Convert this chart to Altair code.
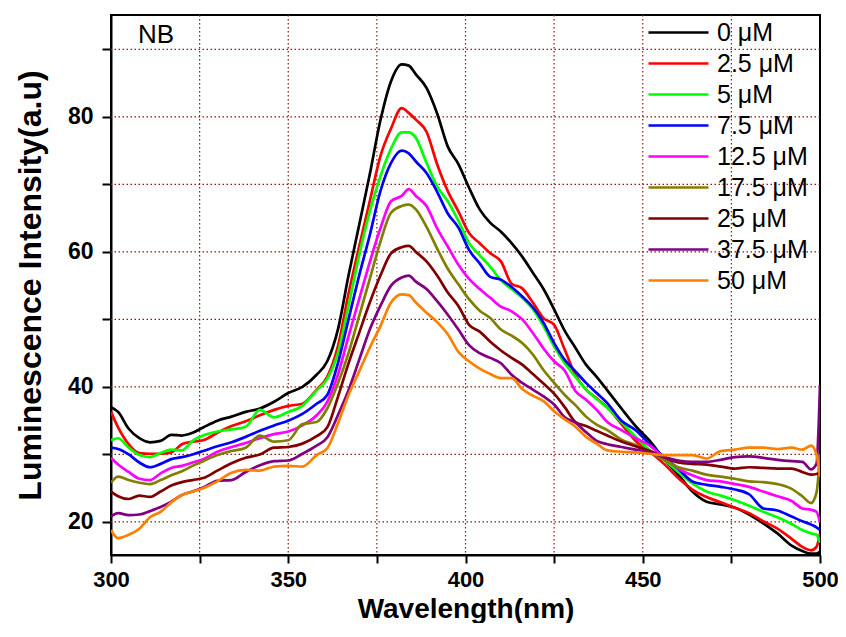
import altair as alt
import pandas as pd

wavelength = [300, 302, 305, 308, 311, 314, 317, 320, 323, 326, 330, 334, 338, 342, 346, 350,
              354, 358, 361, 364, 367, 370, 373, 376, 379, 382, 384, 386, 389, 392, 395, 398,
              401, 404, 407, 410, 413, 416, 419, 422, 425, 428, 431, 434, 437, 440, 444, 448,
              452, 456, 460, 464, 468, 472, 476, 480, 484, 488, 492, 495, 497.5, 499, 500]

c_0 = [37.0, 36.3, 33.8, 32.4, 31.8, 32.0, 32.9, 32.8, 33.2, 34.0, 35.0, 35.6, 36.3, 36.8, 37.8, 39.1,
       40.0, 41.8, 43.8, 48.5, 56.5, 64.0, 71.5, 79.5, 85.3, 87.8, 87.6, 86.3, 84.3, 80.5, 75.6, 73.0,
       69.5, 66.3, 64.3, 63.0, 61.3, 59.3, 56.9, 54.5, 51.5, 48.3, 45.8, 43.3, 41.5, 39.5, 36.8, 34.2,
       32.0, 29.3, 27.0, 24.5, 23.0, 22.6, 22.1, 21.1, 19.8, 18.3, 16.5, 15.7, 15.3, 15.3, 15.6]
c_2_5 = [36.3, 34.0, 31.5, 30.2, 30.1, 30.1, 30.3, 31.5, 31.9, 32.1, 33.2, 34.2, 34.9, 35.8, 36.6, 37.2,
         37.5, 39.6, 41.5, 46.0, 53.8, 60.8, 67.5, 74.2, 78.3, 81.3, 80.6, 79.6, 77.8, 73.0, 69.0, 66.0,
         62.8, 61.3, 59.8, 58.6, 55.3, 54.6, 52.5, 50.2, 49.2, 45.5, 41.8, 39.6, 38.3, 37.0, 34.5, 32.0,
         30.4, 28.6, 26.5, 24.8, 23.7, 22.9, 22.1, 21.3, 20.1, 19.0, 17.5, 16.3, 15.8, 16.3, 18.3]
c_5 = [32.1, 32.4, 31.0, 29.9, 29.6, 30.2, 30.7, 30.6, 32.0, 32.8, 33.4, 33.7, 34.1, 36.6, 35.5, 36.3,
       37.2, 39.5, 41.2, 45.0, 52.0, 59.5, 66.0, 71.2, 75.3, 77.7, 77.7, 76.9, 73.2, 69.7, 67.5, 64.6,
       61.3, 59.5, 57.8, 55.8, 54.5, 53.2, 51.5, 49.0, 46.0, 43.5, 41.5, 39.6, 38.2, 36.9, 34.8, 32.6,
       30.6, 29.2, 27.4, 25.7, 24.5, 23.9, 23.2, 22.4, 21.5, 20.7, 19.7, 18.8, 18.3, 18.1, 16.9]
c_7_5 = [31.0, 30.8, 30.0, 28.8, 28.1, 28.6, 29.3, 29.6, 30.0, 30.5, 31.2, 31.8, 32.6, 33.5, 34.3, 35.0,
         36.0, 37.5, 38.8, 43.5, 50.0, 56.5, 62.5, 69.0, 73.2, 75.0, 74.6, 73.4, 71.7, 68.9, 65.7, 63.6,
         60.3, 58.3, 56.3, 55.9, 54.8, 53.4, 51.8, 49.5, 46.5, 44.0, 42.3, 40.6, 39.1, 37.6, 35.0, 33.6,
         31.5, 29.6, 27.9, 26.0, 25.5, 25.2, 24.8, 24.1, 22.0, 21.7, 20.8, 20.1, 19.6, 19.2, 18.8]
c_12_5 = [29.5, 28.5, 27.4, 26.4, 26.2, 27.2, 28.0, 28.3, 28.8, 29.3, 30.4, 31.1, 31.7, 32.4, 33.0, 33.4,
          34.3, 35.8, 37.8, 41.8, 47.5, 53.0, 58.5, 63.5, 67.5, 68.3, 69.3, 68.3, 66.8, 63.5, 60.8, 58.1,
          56.0, 54.5, 53.2, 51.9, 51.2, 50.0, 48.0, 45.7, 43.8, 42.4, 39.4, 38.1, 36.6, 34.8, 33.6, 32.4,
          31.3, 29.5, 27.9, 26.9, 26.2, 26.0, 25.6, 25.2, 24.5, 23.8, 23.1, 22.0, 21.8, 21.5, 19.9]
c_17_5 = [25.8, 26.7, 26.2, 25.8, 25.6, 26.2, 26.9, 27.5, 28.3, 29.0, 29.9, 30.5, 31.0, 32.8, 31.9, 32.1,
          34.5, 34.8, 36.8, 40.5, 45.0, 50.5, 56.0, 61.5, 65.8, 66.8, 67.0, 66.3, 63.7, 60.5, 57.5, 55.2,
          53.0, 51.3, 50.2, 48.5, 47.6, 46.5, 44.8, 42.5, 40.6, 38.8, 37.3, 35.6, 34.4, 33.6, 32.2, 31.4,
          30.3, 29.2, 28.1, 27.6, 27.0, 26.7, 26.4, 26.0, 25.9, 25.6, 24.9, 23.8, 22.8, 24.3, 30.0]
c_25 = [24.5, 23.8, 23.4, 23.9, 23.7, 24.5, 25.4, 25.9, 26.2, 26.5, 27.6, 28.7, 29.5, 30.0, 31.0, 31.1,
        31.6, 32.7, 34.0, 38.5, 43.5, 48.0, 52.5, 56.5, 59.8, 60.7, 60.9, 60.0, 58.6, 56.5, 54.0, 52.0,
        49.2, 48.2, 46.7, 45.4, 44.3, 43.3, 41.9, 40.5, 39.0, 37.0, 34.8, 34.2, 33.5, 32.8, 31.9, 31.2,
        30.5, 29.6, 28.8, 28.6, 28.5, 28.2, 27.9, 28.1, 28.0, 27.9, 27.9, 27.4, 27.0, 27.1, 27.3]
c_37_5 = [20.8, 21.3, 21.0, 21.1, 21.6, 22.2, 23.0, 24.0, 24.5, 25.1, 26.1, 26.2, 27.4, 28.4, 29.0, 29.1,
          30.1, 31.3, 32.5, 35.8, 39.5, 44.0, 48.5, 52.0, 55.0, 56.2, 56.5, 55.6, 54.5, 52.7, 50.7, 48.5,
          46.2, 45.0, 44.3, 43.5, 41.8, 40.6, 39.6, 38.6, 37.4, 35.5, 34.7, 33.3, 32.0, 31.5, 31.1, 30.7,
          30.3, 29.6, 29.1, 28.9, 28.9, 29.2, 29.6, 29.7, 29.5, 29.2, 29.0, 28.9, 27.8, 28.6, 40.3]
c_50 = [18.8, 17.6, 18.1, 19.0, 20.7, 21.5, 22.9, 24.0, 24.5, 25.0, 26.0, 27.3, 27.7, 27.6, 28.2, 28.3,
        28.2, 29.9, 30.9, 34.6, 38.8, 42.3, 45.8, 49.0, 52.5, 53.7, 53.6, 52.5, 51.0, 49.6, 47.8, 45.2,
        43.8, 42.7, 41.9, 41.3, 41.3, 39.7, 38.7, 37.9, 36.4, 35.2, 34.1, 32.6, 31.6, 30.6, 30.4, 30.3,
        30.1, 29.9, 29.9, 29.9, 29.4, 30.5, 30.7, 31.0, 31.0, 30.8, 31.0, 30.7, 31.3, 30.0, 26.7]

labels = ["0 μM", "2.5 μM", "5 μM", "7.5 μM", "12.5 μM", "17.5 μM", "25 μM", "37.5 μM", "50 μM"]
series = [c_0, c_2_5, c_5, c_7_5, c_12_5, c_17_5, c_25, c_37_5, c_50]
colors = ["#000000", "#ff0000", "#00ff00", "#0000ff", "#ff00ff", "#808000", "#800000", "#800080", "#ff8000"]

x_ticks = [300, 325, 350, 375, 400, 425, 450, 475, 500]
y_ticks = [20, 30, 40, 50, 60, 70, 80, 90]
x_grid = [325, 350, 375, 400, 425, 450, 475]
y_grid = [20, 30, 40, 50, 60, 70, 80, 90]

rows = []
for lab, vals in zip(labels, series):
    for w, v in zip(wavelength, vals):
        rows.append({"wl": w, "val": v, "conc": lab})
df = pd.DataFrame(rows)

FONT = "Liberation Sans"
x_scale = alt.Scale(domain=[300, 500], nice=False, zero=False)
y_scale = alt.Scale(domain=[15.1, 95.1], nice=False, zero=False)
grid_color = "#a01010"

x_axis = alt.Axis(
    values=x_ticks, labelExpr="datum.value % 50 === 0 ? datum.label : ''",
    grid=False, tickSize=8, tickWidth=2, tickColor="black",
    domainColor="black", domainWidth=2, labelFlush=False, labelOverlap=False,
    labelFont=FONT, labelFontSize=22, labelFontWeight="bold", labelColor="black", labelPadding=6,
    title="Wavelength(nm)", titleFont=FONT, titleFontSize=28, titleFontWeight="bold",
    titleColor="black", titleX=354.5, titleY=62, titleAlign="center", titleBaseline="alphabetic")
y_axis = alt.Axis(
    values=y_ticks, labelExpr="datum.value % 20 === 0 ? datum.label : ''",
    grid=False, tickSize=9, tickWidth=2, tickColor="black",
    domainColor="black", domainWidth=2, labelFlush=False, labelOverlap=False,
    labelFont=FONT, labelFontSize=23, labelFontWeight="bold", labelColor="black", labelPadding=9,
    title="Luminescence Intensity(a.u)", titleFont=FONT, titleFontSize=32, titleFontWeight="bold",
    titleColor="black", titleX=-71, titleY=270, titleAngle=-90, titleAlign="center",
    titleBaseline="alphabetic")

vgrid = alt.Chart(pd.DataFrame({"wl": x_grid})).mark_rule(
    color=grid_color, strokeDash=[1.5, 2.5], strokeWidth=1.2
).encode(x=alt.X("wl:Q", scale=x_scale, axis=x_axis))

hgrid = alt.Chart(pd.DataFrame({"val": y_grid})).mark_rule(
    color=grid_color, strokeDash=[1.5, 2.5], strokeWidth=1.2
).encode(y=alt.Y("val:Q", scale=y_scale, axis=y_axis))

lines = alt.Chart(df).mark_line(strokeWidth=2.7, interpolate="monotone", clip=True).encode(
    x=alt.X("wl:Q", scale=x_scale, axis=x_axis),
    y=alt.Y("val:Q", scale=y_scale, axis=y_axis),
    color=alt.Color("conc:N", scale=alt.Scale(domain=labels, range=colors), legend=alt.Legend(
        title=None, orient="none", legendX=555, legendY=5, symbolType="M-3,0L3,0", symbolSize=400,
        symbolStrokeWidth=2.4, labelFont=FONT, labelFontSize=25, labelColor="black", labelOffset=26,
        rowPadding=5, padding=0)),
)

nb = alt.Chart(pd.DataFrame({"t": ["NB"]})).mark_text(
    font=FONT, fontSize=26, color="black", align="left", baseline="alphabetic"
).encode(x=alt.value(27), y=alt.value(28), text="t:N")

chart = alt.layer(vgrid, hgrid, lines, nb).properties(
    width=709, height=540,
    padding={"left": 103, "top": 7, "right": 18, "bottom": 68},
    autosize=alt.AutoSizeParams(type="none"),
).configure_view(stroke="black", strokeWidth=2)

chart.save("out.html", embed_options={"renderer": "svg", "actions": False})
